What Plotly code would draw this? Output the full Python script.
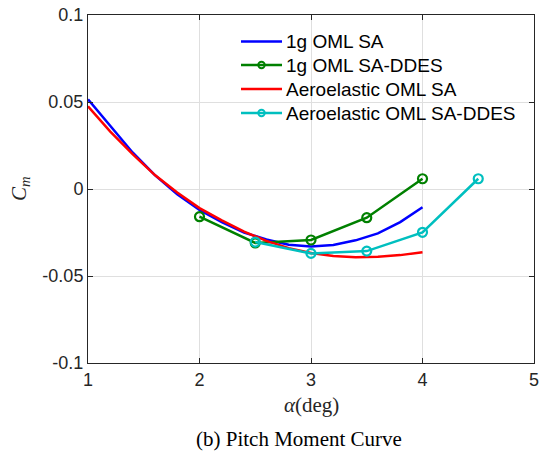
import plotly.graph_objects as go

# 1g OML SA (smooth curve)
alpha_sa = [1.0, 1.2, 1.4, 1.6, 1.8, 2.0, 2.2, 2.4, 2.6, 2.8, 3.0, 3.2, 3.4, 3.6, 3.8, 4.0]
cm_1g_sa = [0.0515, 0.036, 0.021, 0.008, -0.003, -0.012, -0.019, -0.025, -0.029, -0.032,
            -0.033, -0.0322, -0.0295, -0.0255, -0.019, -0.0105]
# Aeroelastic OML SA (smooth curve)
cm_ae_sa = [0.0475, 0.033, 0.020, 0.008, -0.002, -0.011, -0.018, -0.0245, -0.0298, -0.034,
            -0.0368, -0.0385, -0.0392, -0.039, -0.038, -0.0363]
# 1g OML SA-DDES
alpha_1g_ddes = [2.0, 2.5, 3.0, 3.5, 4.0]
cm_1g_ddes = [-0.0159, -0.031, -0.0293, -0.0165, 0.0059]
# Aeroelastic OML SA-DDES
alpha_ae_ddes = [2.5, 3.0, 3.5, 4.0, 4.5]
cm_ae_ddes = [-0.0305, -0.037, -0.0357, -0.0249, 0.0059]

x_ticks = [1, 2, 3, 4, 5]
y_ticks = [-0.1, -0.05, 0, 0.05, 0.1]
y_tick_text = ["-0.1", "-0.05", "0", "0.05", "0.1"]

legend_names = ["1g OML SA", "1g OML SA-DDES", "Aeroelastic OML SA", "Aeroelastic OML SA-DDES"]
legend_colors = ["#0000FF", "#008000", "#FF0000", "#00BFBF"]
legend_markers = [False, True, False, True]

W, H = 540, 451
ML, MR, MT, MB = 88, 6, 15, 88
PW, PH = W - ML - MR, H - MT - MB

def px(xp):
    return (xp - ML) / PW

def py(yp):
    return (H - MB - yp) / PH

fig = go.Figure()
fig.add_trace(go.Scatter(x=alpha_sa, y=cm_1g_sa, mode="lines", name=legend_names[0],
                         line=dict(color=legend_colors[0], width=2.5)))
fig.add_trace(go.Scatter(x=alpha_1g_ddes, y=cm_1g_ddes, mode="lines+markers", name=legend_names[1],
                         line=dict(color=legend_colors[1], width=2.5),
                         marker=dict(symbol="circle-open", size=9, color=legend_colors[1], line=dict(width=2.2))))
fig.add_trace(go.Scatter(x=alpha_sa, y=cm_ae_sa, mode="lines", name=legend_names[2],
                         line=dict(color=legend_colors[2], width=2.5)))
fig.add_trace(go.Scatter(x=alpha_ae_ddes, y=cm_ae_ddes, mode="lines+markers", name=legend_names[3],
                         line=dict(color=legend_colors[3], width=2.5),
                         marker=dict(symbol="circle-open", size=9, color=legend_colors[3], line=dict(width=2.2))))

axis_common = dict(showline=True, linecolor="#262626", linewidth=1, mirror="ticks",
                   ticks="inside", ticklen=5, tickcolor="#262626", automargin=False,
                   showgrid=True, gridcolor="#DFDFDF", gridwidth=1, zeroline=False,
                   tickfont=dict(family="Liberation Sans, Arial, sans-serif", size=18, color="#262626"))

fig.update_xaxes(range=[1, 5], tickvals=x_ticks, **axis_common)
fig.update_yaxes(range=[-0.1, 0.1], tickvals=y_ticks, ticktext=y_tick_text, **axis_common)

# custom legend (MATLAB style)
shapes = []
annotations = []
rows_y = [41.5, 65, 89, 113]
for name, col, mk, ry in zip(legend_names, legend_colors, legend_markers, rows_y):
    shapes.append(dict(type="line", xref="paper", yref="paper",
                       x0=px(241), x1=px(282), y0=py(ry), y1=py(ry),
                       line=dict(color=col, width=2.5)))
    if mk:
        shapes.append(dict(type="circle", xref="paper", yref="paper",
                           xsizemode="pixel", ysizemode="pixel",
                           xanchor=px(261.5), yanchor=py(ry),
                           x0=-3.2, x1=3.2, y0=-3.2, y1=3.2,
                           line=dict(color=col, width=2), fillcolor="rgba(0,0,0,0)"))
    annotations.append(dict(text=name, xref="paper", yref="paper", x=px(284), y=py(ry),
                            xanchor="left", yanchor="middle", showarrow=False,
                            font=dict(family="Liberation Sans, Arial, sans-serif", size=19, color="black")))

annotations += [
    dict(text="<i>α</i>(deg)", xref="paper", yref="paper", x=0.5, y=py(405),
         xanchor="center", yanchor="middle", showarrow=False,
         font=dict(family="Liberation Serif, Times New Roman, serif", size=21, color="#262626")),
    dict(text="<i>C</i><sub><i>m</i></sub>", xref="paper", yref="paper", x=px(20), y=0.5,
         xanchor="center", yanchor="middle", showarrow=False, textangle=-90,
         font=dict(family="Liberation Serif, Times New Roman, serif", size=21, color="#262626")),
    dict(text="(b) Pitch Moment Curve", xref="paper", yref="paper", x=px(299), y=py(439),
         xanchor="center", yanchor="middle", showarrow=False,
         font=dict(family="Liberation Serif, Times New Roman, serif", size=21, color="black")),
]

fig.update_layout(
    width=W, height=H,
    margin=dict(l=ML, r=MR, t=MT, b=MB),
    paper_bgcolor="white", plot_bgcolor="white",
    showlegend=False,
    shapes=shapes,
    annotations=annotations,
)

fig.write_html("out.html")
